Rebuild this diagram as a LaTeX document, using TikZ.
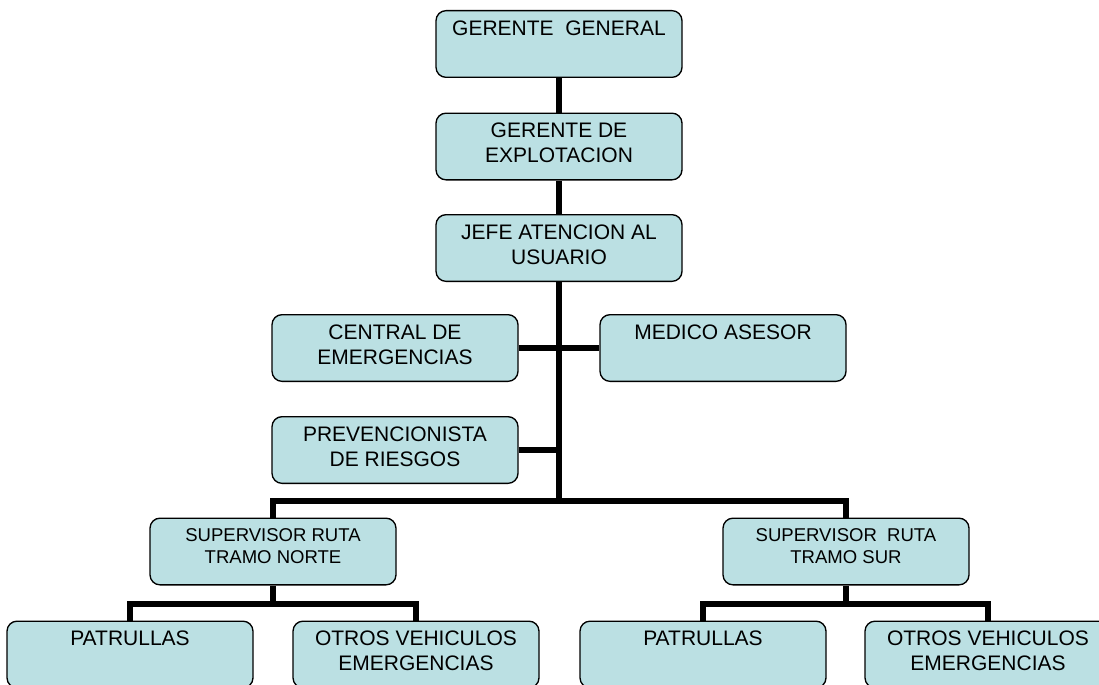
\documentclass[tikz,border=0pt]{standalone}
\usepackage{fontspec}
\setmainfont{Liberation Sans}
\definecolor{celeste}{RGB}{187,224,227}
\newcommand{\etiq}[1]{\parbox[t][35pt][t]{182pt}{\centering #1}}
\begin{document}
\begin{tikzpicture}[x=0.75pt, y=-0.75pt,
caja/.style={draw, line width=1pt, fill=celeste, rounded corners=7.5pt, minimum width=184.5pt, minimum height=50pt, inner sep=0pt, font=\fontsize{15.75}{18.75}\selectfont},
chica/.style={font=\fontsize{13.9}{16.5}\selectfont},
linea/.style={line width=4.5pt}]
\useasboundingbox (0,0) rectangle (1099,685);
\clip (0,0) rectangle (1099,685);
\node[caja] (gg) at (559,44){\etiq{GERENTE\ \ GENERAL}};
\node[caja] (gexp) at (559,146.5){\etiq{GERENTE DE\\EXPLOTACION}};
\node[caja] (jefe) at (559,248){\etiq{JEFE ATENCION AL\\USUARIO}};
\node[caja] (central) at (395,348){\etiq{CENTRAL DE\\EMERGENCIAS}};
\node[caja] (medico) at (723,348){\etiq{MEDICO ASESOR}};
\node[caja] (prev) at (395,450){\etiq{PREVENCIONISTA\\DE RIESGOS}};
\node[caja, chica] (supn) at (273,551.5){\etiq{SUPERVISOR RUTA\\TRAMO NORTE}};
\node[caja, chica] (sups) at (846,551.5){\etiq{SUPERVISOR\ \ RUTA\\TRAMO SUR}};
\node[caja] (patn) at (130,654.5){\etiq{PATRULLAS}};
\node[caja] (otrn) at (416,654.5){\etiq{OTROS VEHICULOS\\EMERGENCIAS}};
\node[caja] (pats) at (703,654.5){\etiq{PATRULLAS}};
\node[caja] (otrs) at (988,654.5){\etiq{OTROS VEHICULOS\\EMERGENCIAS}};
\coordinate (barra) at (559,501);
\coordinate (bn) at (273,604);
\coordinate (bs) at (846,604);
\draw[linea](gg) -- (gexp);
\draw[linea](gexp) -- (jefe);
\draw[linea](jefe) -- (barra);
\draw[linea](central) -- (medico);
\draw[linea](prev.east) -- (prev.east -| barra);
\draw[linea](supn.north) |- (barra) -| (sups.north);
\draw[linea](supn) -- (bn);
\draw[linea](patn.north) |- (bn) -| (otrn.north);
\draw[linea](sups) -- (bs);
\draw[linea](pats.north) |- (bs) -| (otrs.north);

\end{tikzpicture}
\end{document}
